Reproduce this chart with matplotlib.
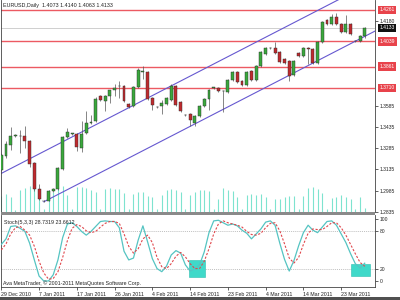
import matplotlib
matplotlib.use("Agg")
import matplotlib.pyplot as plt
import matplotlib.transforms as mtransforms
from matplotlib.patches import Rectangle

plt.rcParams['font.family'] = ['Liberation Sans', 'DejaVu Sans']

# daily EURUSD bars, 29 Dec 2010 .. 29 Mar 2011 (broker has Sunday bars)
opens = [1.3129, 1.3233, 1.3310, 1.3372, 1.3372, 1.3372, 1.3338, 1.3178, 1.2998, 1.2912,
         1.2914, 1.2984, 1.2998, 1.3136, 1.3365, 1.3386, 1.3386, 1.3289, 1.3393, 1.3465,
         1.3476, 1.3650, 1.3615, 1.3650, 1.3692, 1.3726, 1.3726, 1.3594, 1.3580, 1.3719,
         1.3823, 1.3823, 1.3636, 1.3574, 1.3580, 1.3594, 1.3622, 1.3726, 1.3608, 1.3518,
         1.3525, 1.3462, 1.3511, 1.3580, 1.3629, 1.3712, 1.3712, 1.3688, 1.3678, 1.3768,
         1.3823, 1.3761, 1.3733, 1.3830, 1.3768, 1.3865, 1.3948, 1.3990, 1.3990, 1.3962,
         1.3914, 1.3900, 1.3803, 1.3955, 1.3934, 1.3990, 1.3983, 1.3886, 1.4032, 1.4191,
         1.4163, 1.4212, 1.4163, 1.4101, 1.4163, 1.4039, 1.4039, 1.4073]
highs = [1.3254, 1.3338, 1.3435, 1.3386, 1.3414, 1.3442, 1.3345, 1.3190, 1.3032, 1.2921,
         1.2991, 1.3005, 1.3150, 1.3372, 1.3428, 1.3395, 1.3393, 1.3476, 1.3546, 1.3518,
         1.3643, 1.3657, 1.3657, 1.3698, 1.3740, 1.3761, 1.3733, 1.3601, 1.3726, 1.3851,
         1.3865, 1.3830, 1.3643, 1.3580, 1.3622, 1.3643, 1.3740, 1.3733, 1.3615, 1.3525,
         1.3530, 1.3518, 1.3587, 1.3636, 1.3705, 1.3719, 1.3719, 1.3698, 1.3775, 1.3830,
         1.3830, 1.3768, 1.3830, 1.3837, 1.3872, 1.3969, 1.3997, 1.3997, 1.4032, 1.3969,
         1.3921, 1.3907, 1.3907, 1.3962, 1.3997, 1.3997, 1.3990, 1.4039, 1.4184, 1.4198,
         1.4233, 1.4240, 1.4170, 1.4226, 1.4170, 1.4046, 1.4080, 1.4140]
lows = [1.3115, 1.3219, 1.3275, 1.3365, 1.3254, 1.3289, 1.3150, 1.2984, 1.2921, 1.2907,
        1.2910, 1.2977, 1.2991, 1.3129, 1.3358, 1.3380, 1.3268, 1.3261, 1.3386, 1.3455,
        1.3469, 1.3615, 1.3546, 1.3601, 1.3650, 1.3636, 1.3608, 1.3567, 1.3574, 1.3712,
        1.3775, 1.3622, 1.3553, 1.3567, 1.3525, 1.3587, 1.3615, 1.3580, 1.3539, 1.3511,
        1.3442, 1.3442, 1.3504, 1.3574, 1.3553, 1.3705, 1.3678, 1.3539, 1.3671, 1.3761,
        1.3747, 1.3726, 1.3726, 1.3761, 1.3761, 1.3858, 1.3941, 1.3983, 1.3948, 1.3886,
        1.3879, 1.3761, 1.3796, 1.3927, 1.3927, 1.3879, 1.3879, 1.3879, 1.4025, 1.4156,
        1.4156, 1.4156, 1.4094, 1.4094, 1.4080, 1.4032, 1.4032, 1.4063]
closes = [1.3240, 1.3317, 1.3372, 1.3376, 1.3368, 1.3338, 1.3171, 1.2998, 1.2928, 1.2914,
          1.2984, 1.2998, 1.3143, 1.3365, 1.3400, 1.3390, 1.3296, 1.3386, 1.3462, 1.3469,
          1.3629, 1.3622, 1.3650, 1.3692, 1.3712, 1.3722, 1.3615, 1.3574, 1.3719, 1.3837,
          1.3827, 1.3629, 1.3587, 1.3577, 1.3601, 1.3636, 1.3726, 1.3587, 1.3546, 1.3520,
          1.3483, 1.3511, 1.3580, 1.3629, 1.3698, 1.3715, 1.3685, 1.3685, 1.3768, 1.3823,
          1.3754, 1.3733, 1.3823, 1.3768, 1.3865, 1.3962, 1.3990, 1.3992, 1.3955, 1.3893,
          1.3886, 1.3796, 1.3900, 1.3934, 1.3990, 1.3987, 1.3886, 1.4032, 1.4177, 1.4163,
          1.4212, 1.4163, 1.4101, 1.4163, 1.4087, 1.4042, 1.4073, 1.4133]
tick_volume = [80000, 90000, 75000, 10000, 110000, 120000, 130000, 125000, 110000, 15000,
               110000, 100000, 125000, 130000, 85000, 15000, 125000, 125000, 120000, 110000,
               100000, 15000, 115000, 120000, 115000, 115000, 95000, 15000, 90000, 100000,
               100000, 80000, 75000, 15000, 85000, 110000, 115000, 110000, 100000, 15000,
               85000, 100000, 110000, 110000, 105000, 15000, 65000, 120000, 110000, 105000,
               75000, 15000, 85000, 90000, 85000, 90000, 75000, 15000, 65000, 65000,
               75000, 80000, 80000, 15000, 80000, 120000, 125000, 115000, 95000, 15000,
               70000, 75000, 85000, 75000, 65000, 15000, 75000, 20000]
stoch_main = [59, 68, 88, 89, 85, 80, 61, 34, 8, 0,
              0, 10, 34, 70, 92, 94, 88, 80, 74, 80,
              88, 96, 97, 96, 96, 86, 48, 34, 37, 66,
              89, 63, 36, 20, 15, 24, 42, 49, 45, 26,
              16, 20, 26, 47, 78, 97, 98, 94, 90, 92,
              89, 82, 77, 68, 76, 84, 95, 97, 90, 61,
              35, 16, 33, 57, 78, 90, 82, 78, 87, 96,
              97, 90, 76, 62, 44, 28, 21, 28.7319]
stoch_signal = [50, 60, 76, 86, 88, 82, 74, 56, 32, 13,
                3, 4, 15, 38, 65, 85, 91, 88, 81, 78,
                80, 87, 93, 96, 96, 93, 76, 56, 45, 52,
                68, 74, 62, 38, 23, 20, 28, 40, 46, 39,
                28, 20, 20, 32, 52, 76, 92, 97, 94, 92,
                90, 87, 80, 75, 74, 77, 86, 93, 94, 81,
                60, 37, 29, 38, 59, 77, 84, 83, 83, 88,
                94, 94, 86, 74, 59, 44, 30, 23.6612]

levels = [1.4261, 1.4039, 1.3861, 1.3710]
level_labels = ['1.4261', '1.4039', '1.3861', '1.3710']
bid = 1.4133
price_ticks = [1.2835, 1.2985, 1.3135, 1.3285, 1.3435, 1.3585, 1.4180]
upper_x, upper_y = [-0.3, 80], [1.3102, 1.4479]
lower_x, lower_y = [9, 80], [1.2907, 1.4125]
box_x = [(39.8, 43.2), (74.0, 78.1)]
box_y = [(6, 34), (8, 27)]
date_pos = [0, 8, 16, 24, 32, 40, 48, 56, 64, 72]
date_labels = ['29 Dec 2010', '7 Jan 2011', '17 Jan 2011', '26 Jan 2011', '4 Feb 2011',
               '14 Feb 2011', '23 Feb 2011', '4 Mar 2011', '14 Mar 2011', '23 Mar 2011']

W, H = 400, 300
fig = plt.figure(figsize=(4, 3), dpi=100)
fig.patch.set_facecolor('white')

def px_box(x0, y0, x1, y1):
    return [x0 / W, 1 - y1 / H, (x1 - x0) / W, (y1 - y0) / H]

ax = fig.add_axes(px_box(1, 0, 375, 212))
axv = ax.twinx()
sx = fig.add_axes(px_box(1, 215, 375, 287), sharex=ax)
ax.set_zorder(axv.get_zorder() + 1)
ax.patch.set_visible(False)

n = len(closes)
xs = list(range(n))
xl = (-0.064, 79.17)

# volume
axv.vlines(xs, 0, tick_volume, color='#7ee3cf', lw=0.8)
axv.set_ylim(0, 212 * 5000)
axv.set_yticks([])
for s in axv.spines.values():
    s.set_visible(False)

# horizontal levels + bid
for lv in levels:
    ax.axhline(lv, color='#ec5a62', lw=1.0, zorder=1)
ax.axhline(bid, color='#c8c8c8', lw=0.6, zorder=1)

# channel
ax.plot(upper_x, upper_y, color='#6658d0', lw=0.8, zorder=2)
ax.plot(lower_x, lower_y, color='#6658d0', lw=0.8, zorder=2)

# candles
for i in xs:
    o, h, l, c = opens[i], highs[i], lows[i], closes[i]
    up = c >= o
    ax.vlines(i, l, h, color='#555555', lw=0.5, zorder=3)
    body = max(abs(c - o), 0.0004)
    ax.bar(i, body, bottom=min(o, c), width=0.62,
           color='#3aa83c' if up else '#bf2a2e', edgecolor='#2a2a2a', lw=0.3, zorder=4)

ax.set_xlim(*xl)
ax.set_ylim(1.2859, 1.4330)
ax.yaxis.tick_right()
ax.set_yticks(price_ticks)
ax.set_yticklabels(['%.4f' % t for t in price_ticks])
ax.tick_params(axis='y', labelsize=3.6, length=2, width=0.5, pad=1.5, colors='#222222')
ax.tick_params(axis='x', bottom=False, labelbottom=False)
for k in ['top', 'bottom']:
    ax.spines[k].set_visible(False)
for k in ['left', 'right']:
    ax.spines[k].set_color('#444444')
    ax.spines[k].set_linewidth(0.6)

trans = mtransforms.blended_transform_factory(ax.transAxes, ax.transData)
for lv, lab in zip(levels, level_labels):
    ax.text(1.012, lv, lab, transform=trans, fontsize=3.6, color='white', va='center',
            ha='left', zorder=10, clip_on=False,
            bbox=dict(boxstyle='square,pad=0.35', fc='#e8434b', ec='none'))
ax.text(1.012, bid, '1.4133', transform=trans, fontsize=3.6, color='white', va='center',
        ha='left', zorder=10, clip_on=False,
        bbox=dict(boxstyle='square,pad=0.35', fc='#111111', ec='none'))

# stochastic pane
for (x0, x1), (y0, y1) in zip(box_x, box_y):
    sx.add_patch(Rectangle((x0, y0), x1 - x0, y1 - y0, fc='#3fd9c9', ec='#2bbfb0', lw=0.4, zorder=1))
sx.axhline(80, color='#a8a8a8', lw=0.5, ls=(0, (1.5, 1.5)), zorder=0)
sx.axhline(20, color='#a8a8a8', lw=0.5, ls=(0, (1.5, 1.5)), zorder=0)
sx.plot(xs, stoch_main, color='#55c4c2', lw=0.9, zorder=3)
sx.plot(xs, stoch_signal, color='#e0474c', lw=0.8, ls=(0, (2, 1.5)), zorder=3)
sx.set_ylim(-9.7, 106.5)
sx.set_xlim(*xl)
sx.yaxis.tick_right()
sx.set_yticks([0, 20, 80, 100])
sx.tick_params(axis='y', labelsize=3.6, length=2, width=0.5, pad=1.5, colors='#222222')
sx.set_xticks(date_pos)
sx.set_xticklabels(date_labels, ha='left')
sx.tick_params(axis='x', labelsize=3.8, length=2, width=0.5, pad=1.5, colors='#222222')
sx.spines['top'].set_visible(False)
for k in ['left', 'right', 'bottom']:
    sx.spines[k].set_color('#444444')
    sx.spines[k].set_linewidth(0.6)

sx.text(0.008, 0.9, 'Stoch(5,3,3) 28.7319 23.6612', transform=sx.transAxes,
        fontsize=3.8, color='#222222', va='center')
sx.text(0.005, 0.05, 'Ava MetaTrader, \u00a9 2001-2011 MetaQuotes Software Corp.',
        transform=sx.transAxes, fontsize=3.8, color='#222222', va='center')

fig.text(3 / W, 1 - 5 / H, 'EURUSD,Daily  1.4073 1.4140 1.4063 1.4133',
         fontsize=3.9, color='#222222', va='center')

# pane separator and bottom frame strip
fig.patches.append(Rectangle((1 / W, 1 - 215 / H), 374 / W, 3 / H, transform=fig.transFigure,
                             fc='#8a8a8a', ec='none'))
fig.patches.append(Rectangle((0, 0), 1, 3 / H, transform=fig.transFigure, fc='#505050', ec='none'))

fig.savefig('out.png', dpi=100)
